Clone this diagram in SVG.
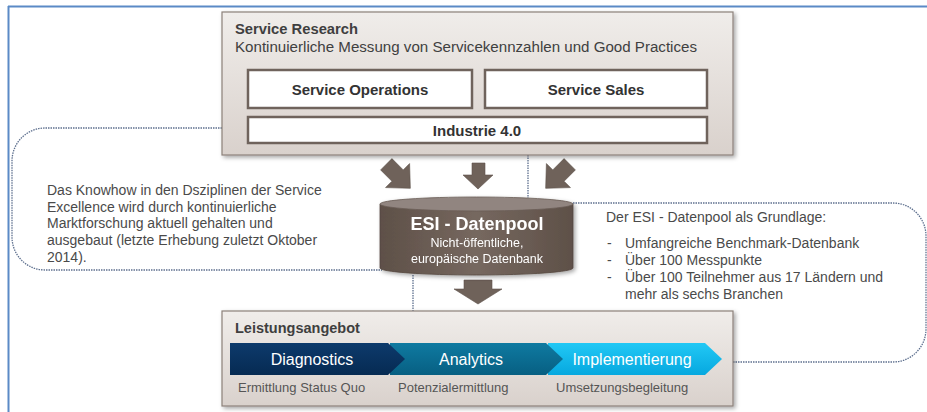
<svg xmlns="http://www.w3.org/2000/svg" width="927" height="412" viewBox="0 0 927 412">
<defs>
<linearGradient id="boxg" x1="0" y1="0" x2="0" y2="1"><stop offset="0" stop-color="#f0edea"/><stop offset="1" stop-color="#d9d1cc"/></linearGradient>
<linearGradient id="cylg" x1="0" y1="0" x2="1" y2="0"><stop offset="0" stop-color="#5e5048"/><stop offset="0.5" stop-color="#76685f"/><stop offset="1" stop-color="#5e5048"/></linearGradient>
<linearGradient id="dg" x1="0" y1="0" x2="0" y2="1"><stop offset="0" stop-color="#0d3a6c"/><stop offset="1" stop-color="#062a52"/></linearGradient>
<linearGradient id="ag" x1="0" y1="0" x2="0" y2="1"><stop offset="0" stop-color="#0f7aa1"/><stop offset="1" stop-color="#075f82"/></linearGradient>
<linearGradient id="ig" x1="0" y1="0" x2="0" y2="1"><stop offset="0" stop-color="#22c8f5"/><stop offset="1" stop-color="#06a8df"/></linearGradient>
<filter id="sh" x="-10%" y="-10%" width="120%" height="130%"><feDropShadow dx="2" dy="2" stdDeviation="2" flood-color="#000" flood-opacity="0.35"/></filter>
</defs>
<style>
.frame{stroke:#5b8ac6;stroke-width:2;fill:none}
.outer{fill:url(#boxg);stroke:#8c817a;stroke-width:1.2;filter:url(#sh)}
.inner{fill:#fff;stroke:#6f635c;stroke-width:2.5}
.dot{fill:none;stroke:#5d6f8e;stroke-width:1.3;stroke-dasharray:1.5 1}
.arr{fill:#6f625a;stroke:#5e524b;stroke-width:0.6}
.t{font-family:"Liberation Sans",Arial,sans-serif}
.title{font-size:14.5px;font-weight:bold;fill:#3f3f3f}
.sub{font-size:14px;fill:#404040}
.btxt{font-size:15px;font-weight:bold;fill:#333}
.desc{font-size:14px;fill:#4a4a4a}
.chev{font-size:16px;fill:#fff;text-anchor:middle}
.small{font-size:13px;fill:#555}
</style>
<line class="frame" x1="8" y1="6.5" x2="927" y2="6.5"/>
<line class="frame" x1="8.5" y1="6" x2="8.5" y2="412"/>

<g id="connectors">
<path class="dot" d="M222,128 H45 A33,33 0 0 0 12,161 V237 A33,33 0 0 0 45,270 H382"/>
<path class="dot" d="M528,155 V198"/>
<path class="dot" d="M573,203 H893 A33,33 0 0 1 926,236 V329 A33,33 0 0 1 893,362 H733"/>
<path class="dot" d="M413,275 V311"/>
<polygon class="arr" points="-8,-18 8,-18 8,-2 17,-2 0,16 -17,-2 -8,-2" transform="translate(399,177) rotate(-45)"/>
<polygon class="arr" points="472,163 485,163 485,175 493,175 478,189 463,175 472,175"/>
<polygon class="arr" points="-8,-18 8,-18 8,-2 17,-2 0,16 -17,-2 -8,-2" transform="translate(557,177) rotate(45)"/>
<polygon class="arr" points="464,280 492,280 492,289 502,289 478,304 454,289 464,289"/>
</g>

<g id="service-research">
<rect class="outer" x="222" y="12" width="511" height="143"/>
<text class="t title" x="235" y="34" textLength="123" lengthAdjust="spacingAndGlyphs">Service Research</text>
<text class="t sub" x="235" y="52" textLength="462" lengthAdjust="spacingAndGlyphs">Kontinuierliche  Messung von Servicekennzahlen  und  Good Practices</text>
</g>
<g id="service-operations">
<rect class="inner" x="248" y="70" width="224" height="38"/>
<text class="t btxt" x="360" y="95" text-anchor="middle">Service Operations</text>
</g>
<g id="service-sales">
<rect class="inner" x="485" y="70" width="222" height="38"/>
<text class="t btxt" x="596" y="95" text-anchor="middle">Service Sales</text>
</g>
<g id="industrie">
<rect class="inner" x="248" y="117" width="459" height="26"/>
<text class="t btxt" x="477" y="136" text-anchor="middle">Industrie 4.0</text>
</g>

<g id="datenpool" filter="url(#sh)">
<path d="M380,204 V268 A96.5,7 0 0 0 573,268 V204 Z" fill="url(#cylg)" stroke="#54473f" stroke-width="0.8"/>
<ellipse cx="476.5" cy="204" rx="96.5" ry="7" fill="#918580" stroke="#6a5d55" stroke-width="0.8"/>
<text class="t" x="477" y="230" text-anchor="middle" font-size="18" font-weight="bold" fill="#fff">ESI - Datenpool</text>
<text class="t" x="477" y="247" text-anchor="middle" font-size="12.5" fill="#fff">Nicht-öffentliche,</text>
<text class="t" x="477" y="263" text-anchor="middle" font-size="12.5" fill="#fff">europäische Datenbank</text>
</g>

<g id="knowhow-text">
<text class="t desc" x="47" y="195">Das Knowhow in den Dsziplinen der Service</text>
<text class="t desc" x="47" y="211.7">Excellence wird durch kontinuierliche</text>
<text class="t desc" x="47" y="228.3">Marktforschung aktuell gehalten und</text>
<text class="t desc" x="47" y="245">ausgebaut (letzte Erhebung zuletzt Oktober</text>
<text class="t desc" x="47" y="261.7">2014).</text>
</g>

<g id="grundlage-text">
<text class="t desc" x="606" y="222">Der ESI - Datenpool als Grundlage:</text>
<text class="t desc" x="607" y="248">-</text><text class="t desc" x="625" y="248">Umfangreiche Benchmark-Datenbank</text>
<text class="t desc" x="607" y="265">-</text><text class="t desc" x="625" y="265">Über 100 Messpunkte</text>
<text class="t desc" x="607" y="282">-</text><text class="t desc" x="625" y="282">Über 100 Teilnehmer aus 17 Ländern und</text>
<text class="t desc" x="625" y="299">mehr als sechs Branchen</text>
</g>

<g id="leistungsangebot">
<rect class="outer" x="222" y="311" width="511" height="95"/>
<text class="t title" x="235" y="333">Leistungsangebot</text>
</g>
<g id="implementierung">
<polygon points="548,343 705,343 722,359 705,375 548,375" fill="url(#ig)"/>
<text class="t chev" x="632" y="365">Implementierung</text>
<text class="t small" x="556" y="392">Umsetzungsbegleitung</text>
</g>
<g id="analytics">
<polygon points="390,343 546,343 563,359 546,375 390,375" fill="url(#ag)"/>
<text class="t chev" x="471" y="365">Analytics</text>
<text class="t small" x="398" y="392">Potenzialermittlung</text>
</g>
<g id="diagnostics">
<polygon points="230,343 388,343 405,359 388,375 230,375" fill="url(#dg)"/>
<text class="t chev" x="312" y="365">Diagnostics</text>
<text class="t small" x="238" y="392">Ermittlung Status Quo</text>
</g>
</svg>
